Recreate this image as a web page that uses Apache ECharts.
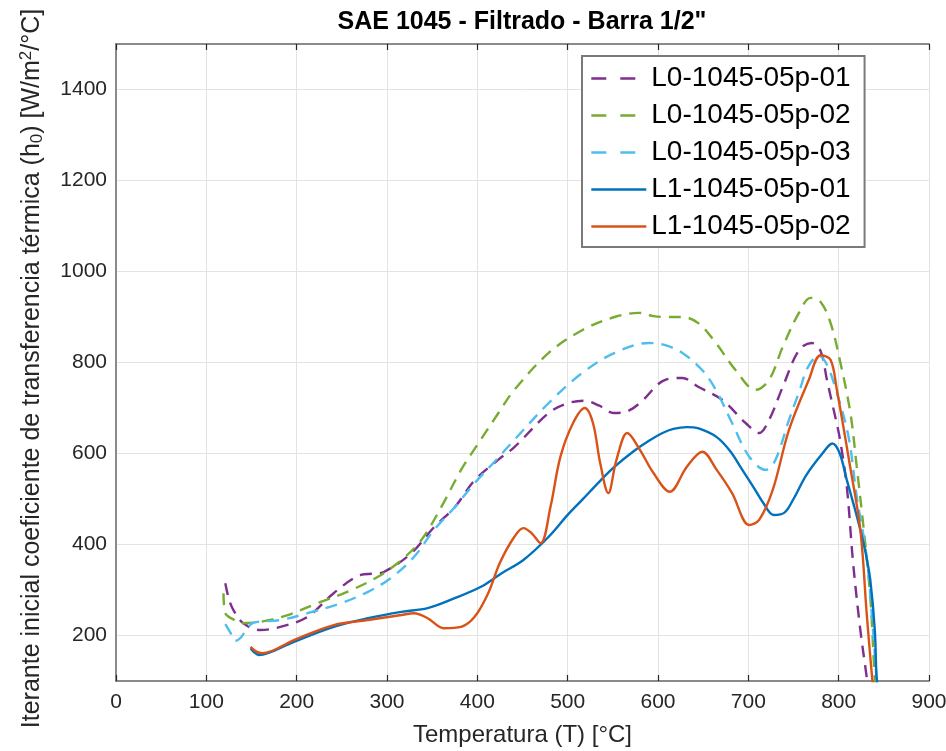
<!DOCTYPE html>
<html><head><meta charset="utf-8">
<script src="https://cdn.jsdelivr.net/npm/echarts@6/dist/echarts.min.js"></script>
<style>html,body{margin:0;padding:0;background:#fff}#c{width:946px;height:751px}</style>
</head><body><div id="c"></div>
<script>
const seriesNames = ['L0-1045-05p-01','L0-1045-05p-02','L0-1045-05p-03','L1-1045-05p-01','L1-1045-05p-02'];

const tL0a = [121,125,130,141,160,182,212,241,271,285,297,327,352,375,397,423,441,479,501,519,535,551,565,580,608,627,645,671,697,712,723,738,756,770,780,787,794,801,809,816,824,831,834];
const hL0a = [315,280,256,227,212,219,241,293,333,336,340,381,438,482,541,586,614,689,711,716,705,689,692,711,762,766,746,718,667,645,674,746,827,843,825,762,700,636,527,359,212,109,60];

const tL0b = [119,121,130,138,160,190,223,256,290,316,338,360,382,401,423,441,479,516,552,579,595,608,627,645,664,686,708,723,738,756,769,780,791,802,813,820,827,835,840,843];
const hL0b = [293,249,235,227,230,245,271,296,329,366,410,482,564,622,688,740,821,871,900,909,902,900,900,886,843,783,740,762,834,909,942,933,887,799,689,571,447,285,109,60];

const tL0c = [121,127,132,138,145,152,182,212,249,279,304,330,352,375,397,419,441,479,516,552,590,608,627,649,664,682,701,719,730,745,757,766,778,787,797,811,820,831,838,842];
const hL0c = [225,205,188,195,215,228,234,249,271,296,326,373,432,482,535,582,630,711,777,821,843,838,821,783,740,667,593,564,586,674,740,790,815,795,740,636,505,373,212,100];

const tL1a = [149,153,158,168,197,241,279,316,345,375,404,427,451,479,500,516,536,552,573,590,605,617,632,645,665,680,693,706,716,728,740,750,764,782,793,801,809,817,824,830,835,840,842,845];
const hL1a = [172,163,157,161,186,219,238,252,260,282,307,337,366,417,465,498,540,571,605,628,645,654,658,655,636,605,565,525,493,465,470,500,552,600,622,601,542,485,432,380,322,212,109,60];

const tL1b = [149,155,162,197,241,279,316,330,345,363,382,397,412,425,441,451,460,470,481,492,506,519,528,536,545,554,566,580,595,613,632,649,665,682,701,712,727,745,767,780,791,798,812,824,831,837,840];
const hL1b = [175,165,161,190,223,234,245,249,238,216,219,241,293,360,417,436,425,403,483,593,667,700,667,579,513,586,645,608,557,516,571,604,564,513,443,454,520,652,762,816,806,740,579,432,249,109,60];

const yTickValues = [200,400,600,800,1000,1200,1400];
const xTickValues = [0,100,200,300,400,500,600,700,800,900];

const colors = ['#7E2F8E','#77AC30','#4DBEEE','#0072BD','#D95319'];
const seriesT = [tL0a,tL0b,tL0c,tL1a,tL1b];
const seriesH = [hL0a,hL0b,hL0c,hL1a,hL1b];
const dashed = [true,true,true,false,false];

const zip = (a,b) => a.map((v,i)=>[v,b[i]]);
const frameColor = '#8a8a8a';
const tickColor = '#262626';
const tickFont = {fontFamily:'Liberation Sans', fontSize:21, color:'#262626'};

const chart = echarts.init(document.getElementById('c'), null, {renderer:'canvas'});
chart.setOption({
  animation:false,
  backgroundColor:'#fff',
  graphic:[{type:'text', x:522, y:22, style:{text:'SAE 1045 - Filtrado - Barra 1/2"', font:'bold 25px "Liberation Sans"', fill:'#000', textAlign:'center', textVerticalAlign:'middle'}}],
  grid:{left:116, right:17, top:44, bottom:70, containLabel:false, outerBoundsMode:'none'},
  xAxis:[{
    type:'value', min:0, max:900, interval:100,
    name:'Temperatura (T) [°C]', nameLocation:'middle', nameGap:42,
    nameTextStyle:{fontFamily:'Liberation Sans', fontSize:24, color:'#262626'},
    axisLine:{show:true, lineStyle:{color:frameColor, width:2}},
    axisTick:{show:true, inside:true, length:6, lineStyle:{color:tickColor, width:1.2}},
    axisLabel:Object.assign({margin:11, formatter:v=>String(v)}, tickFont),
    splitLine:{show:true, lineStyle:{color:'#e3e3e3', width:1}}
  },{
    type:'value', min:0, max:900, interval:100, position:'top',
    axisLine:{show:true, lineStyle:{color:frameColor, width:2}},
    axisTick:{show:true, inside:true, length:6, lineStyle:{color:tickColor, width:1.2}},
    axisLabel:{show:false}, splitLine:{show:false}
  }],
  yAxis:[{
    type:'value', min:100, max:1500,
    name:'Iterante inicial coeficiente de transferencia térmica (h{sub|0}) [W/m{sup|2}/°C]',
    nameLocation:'middle', nameGap:70,
    nameTextStyle:{fontFamily:'Liberation Sans', fontSize:25, color:'#262626', lineHeight:28, padding:[0,12,0,0],
      rich:{sub:{fontFamily:'Liberation Sans', fontSize:17, verticalAlign:'bottom', lineHeight:28, color:'#262626'},
            sup:{fontFamily:'Liberation Sans', fontSize:17, verticalAlign:'top', lineHeight:28, color:'#262626'}}},
    axisLine:{show:true, lineStyle:{color:frameColor, width:2}},
    axisTick:{show:false, customValues:yTickValues},
    axisLabel:Object.assign({margin:9, customValues:yTickValues, formatter:v=>String(v)}, tickFont),
    splitLine:{show:true, lineStyle:{color:'#e3e3e3', width:1}}
  },{
    type:'value', min:100, max:1500, position:'right',
    axisLine:{show:true, lineStyle:{color:frameColor, width:2}},
    axisTick:{show:false, customValues:yTickValues},
    axisLabel:{show:false, customValues:yTickValues}, splitLine:{show:false}
  }],
  legend:{
    orient:'vertical', left:582, top:56,
    backgroundColor:'#fff', borderColor:'#7a7a7a', borderWidth:2,
    padding:[8,14,6,8], itemWidth:55, itemHeight:14, itemGap:8,
    itemStyle:{color:'rgba(0,0,0,0)', borderColor:'rgba(0,0,0,0)', borderWidth:0},
    textStyle:{fontFamily:'Liberation Sans', fontSize:28, color:'#000', lineHeight:29},
    data: seriesNames.map((n,i)=>({name:n, lineStyle: dashed[i] ? {type:[15,14], width:2.6} : {width:2.6}}))
  },
  series: seriesNames.map((n,i)=>({
    name:n, type:'line', xAxisIndex:0, yAxisIndex:0,
    data: zip(seriesT[i], seriesH[i]),
    showSymbol:false, symbol:'none', smooth:0.35, clip:true,
    lineStyle:{color:colors[i], width:2.4, type: dashed[i] ? [12,8] : 'solid'},
    itemStyle:{color:colors[i]},
    z: 2+i
  }))
});
</script></body></html>
